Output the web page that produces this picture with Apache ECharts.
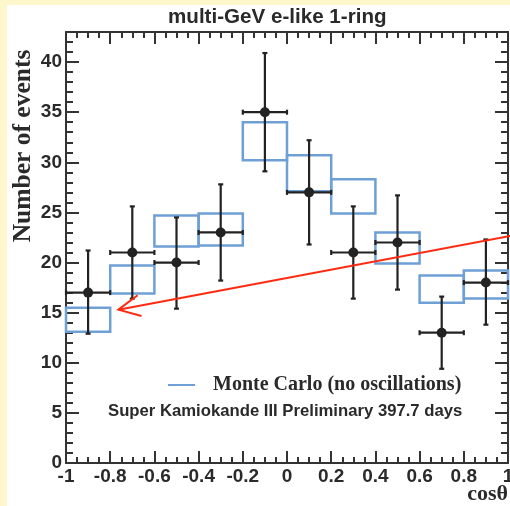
<!DOCTYPE html>
<html><head><meta charset="utf-8">
<script src="https://cdn.jsdelivr.net/npm/echarts@6/dist/echarts.min.js"></script>
<style>html,body{margin:0;padding:0;background:#fff;overflow:hidden;width:510px;height:506px}#c{width:510px;height:506px;overflow:hidden}</style>
</head><body><div id="c"></div>
<script>
// ---- data ----
const binCenters = [-0.9, -0.7, -0.5, -0.3, -0.1, 0.1, 0.3, 0.5, 0.7, 0.9];
const binHalfWidth = 0.1;
const dataValues = [17, 21, 20, 23, 35, 27, 21, 22, 13, 18];
const dataErrLow = [12.9, 16.4, 15.4, 18.2, 29.1, 21.8, 16.4, 17.3, 9.4, 13.8];
const dataErrHigh = [21.2, 25.6, 24.5, 27.8, 40.9, 32.2, 25.6, 26.7, 16.6, 22.3];
const mcLow = [13.1, 16.9, 21.6, 21.7, 30.2, 27.1, 24.9, 19.9, 16.0, 16.4];
const mcHigh = [15.5, 19.7, 24.7, 24.9, 34.0, 30.7, 28.3, 23.0, 18.7, 19.2];
const arrowStart = [1.01, 22.65];
const arrowTip = [-0.763, 15.3];
const xRange = [-1, 1];
const yRange = [0, 43];
const titleText = 'multi-GeV e-like 1-ring';
const mcName = 'Monte Carlo (no oscillations)';
const noteText = 'Super Kamiokande III Preliminary 397.7 days';
const yName = 'Number of events';
const xName = 'cosθ';

const SANS = '"Liberation Sans", Arial, Helvetica, sans-serif';
const SERIF = '"Liberation Serif", "Times New Roman", serif';
const AX = '#333';
const MC_COLOR = '#6ea0d6';
const DOT = '#222';

const chart = echarts.init(document.getElementById('c'), null, {renderer: 'canvas', width: 510, height: 506});

const baseX = {
  type: 'value', min: xRange[0], max: xRange[1], interval: 0.2,
  axisLine: {show: true, onZero: false, lineStyle: {color: AX, width: 2}},
  axisTick: {show: true, inside: true, length: 12, lineStyle: {color: AX, width: 2}},
  minorTick: {show: true, splitNumber: 4, length: 6, lineStyle: {color: AX, width: 2}},
  splitLine: {show: false}, minorSplitLine: {show: false}
};
const baseY = {
  type: 'value', min: yRange[0], max: yRange[1], interval: 5,
  axisLine: {show: true, onZero: false, lineStyle: {color: AX, width: 2}},
  axisTick: {show: true, inside: true, length: 13, lineStyle: {color: AX, width: 2}},
  minorTick: {show: true, splitNumber: 5, length: 7, lineStyle: {color: AX, width: 2}},
  splitLine: {show: false}, minorSplitLine: {show: false}
};

const option = {
  backgroundColor: '#ffffff',
  animation: false,
  title: [
    {text: titleText, left: 168, top: 7, padding: 0,
     textStyle: {fontFamily: SANS, fontWeight: 'bold', fontSize: 20.6, color: '#2a2a2a'}},
    {text: noteText, left: 108, top: 403, padding: 0,
     textStyle: {fontFamily: SANS, fontWeight: 'bold', fontSize: 16.7, color: '#2a2a2a'}}
  ],
  legend: {
    left: 168, top: 375, padding: 0, selectedMode: false,
    itemWidth: 27, itemHeight: 2,
    data: [{name: mcName, icon: 'rect', itemStyle: {color: MC_COLOR}}],
    textStyle: {fontFamily: SERIF, fontWeight: 'bold', fontSize: 20, color: '#2a2a2a', padding: [0, 0, 0, 13]}
  },
  grid: {left: 66, right: 2, top: 32, bottom: 43, containLabel: false, outerBoundsMode: 'none'},
  xAxis: [
    Object.assign({}, baseX, {position: 'bottom',
      axisLabel: {show: true, margin: 4, fontFamily: SANS, fontWeight: 'bold', fontSize: 19, color: '#2a2a2a'}}),
    Object.assign({}, baseX, {position: 'top', axisLabel: {show: false}})
  ],
  yAxis: [
    Object.assign({}, baseY, {position: 'left',
      axisLabel: {show: true, margin: 4, showMaxLabel: false, fontFamily: SANS, fontWeight: 'bold', fontSize: 19, color: '#2a2a2a',
        formatter: v => (v % 5 === 0 ? String(v) : '')}}),
    Object.assign({}, baseY, {position: 'right', axisLabel: {show: false}})
  ],
  graphic: [
    {type: 'rect', left: 0, top: 0, z: -10, shape: {width: 7, height: 506}, style: {fill: '#fff7cc'}},
    {type: 'rect', left: 0, top: 0, z: -10, shape: {width: 510, height: 5}, style: {fill: '#fff7cc'}},
    {type: 'text', x: 23, y: 146, rotation: Math.PI / 2,
     style: {text: yName, font: 'bold 25.5px ' + SERIF, fill: '#2a2a2a', textAlign: 'center', textVerticalAlign: 'middle'}},
    {type: 'text', x: 508, y: 494,
     style: {text: xName, font: 'bold 22px ' + SERIF, fill: '#2a2a2a', textAlign: 'right', textVerticalAlign: 'middle'}}
  ],
  series: [
    {
      name: mcName, type: 'custom', xAxisIndex: 0, yAxisIndex: 0,
      itemStyle: {color: MC_COLOR},
      data: binCenters.map((c, i) => [c, mcLow[i], mcHigh[i]]),
      encode: {x: 0, y: [1, 2]},
      renderItem: function (params, api) {
        const c = api.value(0), lo = api.value(1), hi = api.value(2);
        const p1 = api.coord([c - binHalfWidth, hi]);
        const p2 = api.coord([c + binHalfWidth, lo]);
        return {type: 'rect', shape: {x: p1[0], y: p1[1], width: p2[0] - p1[0], height: p2[1] - p1[1]},
          style: {fill: null, stroke: MC_COLOR, lineWidth: 2.5}};
      }
    },
    {
      name: 'data', type: 'custom', xAxisIndex: 0, yAxisIndex: 0, z: 3,
      data: binCenters.map((c, i) => [c, dataValues[i], dataErrLow[i], dataErrHigh[i]]),
      encode: {x: 0, y: [1, 2, 3]},
      renderItem: function (params, api) {
        const c = api.value(0), v = api.value(1), lo = api.value(2), hi = api.value(3);
        const pv = api.coord([c, v]);
        const pl = api.coord([c, lo]);
        const ph = api.coord([c, hi]);
        const pa = api.coord([c - binHalfWidth, v]);
        const pb = api.coord([c + binHalfWidth, v]);
        const st = {stroke: DOT, lineWidth: 2.2};
        const cap = 2.5;
        return {type: 'group', children: [
          {type: 'line', shape: {x1: pl[0], y1: pl[1], x2: ph[0], y2: ph[1]}, style: st},
          {type: 'line', shape: {x1: pl[0] - cap, y1: pl[1], x2: pl[0] + cap, y2: pl[1]}, style: st},
          {type: 'line', shape: {x1: ph[0] - cap, y1: ph[1], x2: ph[0] + cap, y2: ph[1]}, style: st},
          {type: 'line', shape: {x1: pa[0], y1: pa[1], x2: pb[0], y2: pb[1]}, style: st},
          {type: 'line', shape: {x1: pa[0], y1: pa[1] - cap, x2: pa[0], y2: pa[1] + cap}, style: st},
          {type: 'line', shape: {x1: pb[0], y1: pb[1] - cap, x2: pb[0], y2: pb[1] + cap}, style: st},
          {type: 'circle', shape: {cx: pv[0], cy: pv[1], r: 5}, style: {fill: DOT}}
        ]};
      }
    },
    {
      name: 'arrow', type: 'custom', xAxisIndex: 0, yAxisIndex: 0, z: 4, clip: false,
      data: [[arrowStart[0], arrowStart[1], arrowTip[0], arrowTip[1]]],
      renderItem: function (params, api) {
        const s = api.coord([api.value(0), api.value(1)]);
        const t = api.coord([api.value(2), api.value(3)]);
        const ang = Math.atan2(s[1] - t[1], s[0] - t[0]);
        const L = 24, da = 26 * Math.PI / 180;
        const b1 = [t[0] + L * Math.cos(ang - da), t[1] + L * Math.sin(ang - da)];
        const b2 = [t[0] + L * Math.cos(ang + da), t[1] + L * Math.sin(ang + da)];
        const st = {stroke: '#ff2a10', lineWidth: 2, fill: null};
        return {type: 'group', children: [
          {type: 'line', shape: {x1: s[0], y1: s[1], x2: t[0], y2: t[1]}, style: st},
          {type: 'polyline', shape: {points: [b1, t, b2]}, style: st}
        ]};
      }
    }
  ]
};
chart.setOption(option);
</script>
</body></html>
